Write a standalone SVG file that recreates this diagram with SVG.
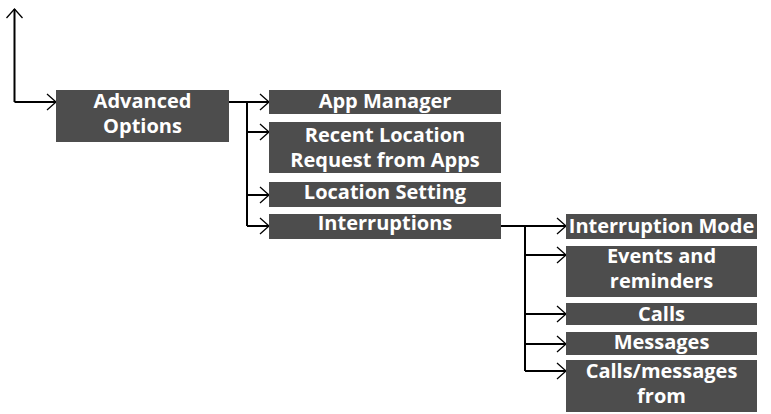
<svg xmlns="http://www.w3.org/2000/svg" width="771" height="414" viewBox="0 0 771 414">
<style>
.box{fill:#4d4d4d}
.t{font-family:"Open Sans","Noto Sans","DejaVu Sans",sans-serif;font-weight:bold;font-size:20px;fill:#ffffff;text-anchor:middle}
.c{fill:none;stroke:#000;stroke-width:2}
</style>
<defs>
<marker id="ah" markerUnits="userSpaceOnUse" markerWidth="20" markerHeight="20" viewBox="-12 -10 14 20" refX="0" refY="0" orient="auto">
<path d="M-9,-8 L0,0 L-9,8" fill="none" stroke="#000" stroke-width="1.3"/>
</marker>
</defs>
<g id="connectors">
<path class="c" d="M14.5,102 V9" marker-end="url(#ah)"/>
<path class="c" d="M14.5,102 H56" marker-end="url(#ah)"/>
<path class="c" d="M229,102 H269" marker-end="url(#ah)"/>
<path class="c" d="M247,102 V226"/>
<path class="c" d="M247,132 H269" marker-end="url(#ah)"/>
<path class="c" d="M247,195 H269" marker-end="url(#ah)"/>
<path class="c" d="M247,226 H269" marker-end="url(#ah)"/>
<path class="c" d="M501,226 H566" marker-end="url(#ah)"/>
<path class="c" d="M525,226 V371"/>
<path class="c" d="M525,255 H566" marker-end="url(#ah)"/>
<path class="c" d="M525,314 H566" marker-end="url(#ah)"/>
<path class="c" d="M525,344 H566" marker-end="url(#ah)"/>
<path class="c" d="M525,371 H566" marker-end="url(#ah)"/>
</g>
<g id="advanced-options"><rect class="box" x="56" y="90" width="173" height="52"/><text class="t" x="142.5" y="108">Advanced</text><text class="t" x="142.5" y="133">Options</text></g>
<g id="app-manager"><rect class="box" x="269" y="90" width="232" height="24"/><text class="t" x="385" y="108">App Manager</text></g>
<g id="recent-location"><rect class="box" x="269" y="122" width="232" height="51"/><text class="t" x="385" y="142">Recent Location</text><text class="t" x="385" y="167">Request from Apps</text></g>
<g id="location-setting"><rect class="box" x="269" y="182" width="232" height="25"/><text class="t" x="385" y="199">Location Setting</text></g>
<g id="interruptions"><rect class="box" x="269" y="214" width="232" height="25"/><text class="t" x="385" y="230">Interruptions</text></g>
<g id="interruption-mode"><rect class="box" x="566" y="214" width="191" height="25"/><text class="t" x="661.5" y="233">Interruption Mode</text></g>
<g id="events-reminders"><rect class="box" x="566" y="246" width="191" height="51"/><text class="t" x="661.5" y="263">Events and</text><text class="t" x="661.5" y="288">reminders</text></g>
<g id="calls"><rect class="box" x="566" y="303" width="191" height="22"/><text class="t" x="661.5" y="321">Calls</text></g>
<g id="messages"><rect class="box" x="566" y="332" width="191" height="23"/><text class="t" x="661.5" y="349">Messages</text></g>
<g id="calls-messages-from"><rect class="box" x="566" y="360" width="191" height="52"/><text class="t" x="661.5" y="378">Calls/messages</text><text class="t" x="661.5" y="403">from</text></g>
</svg>
